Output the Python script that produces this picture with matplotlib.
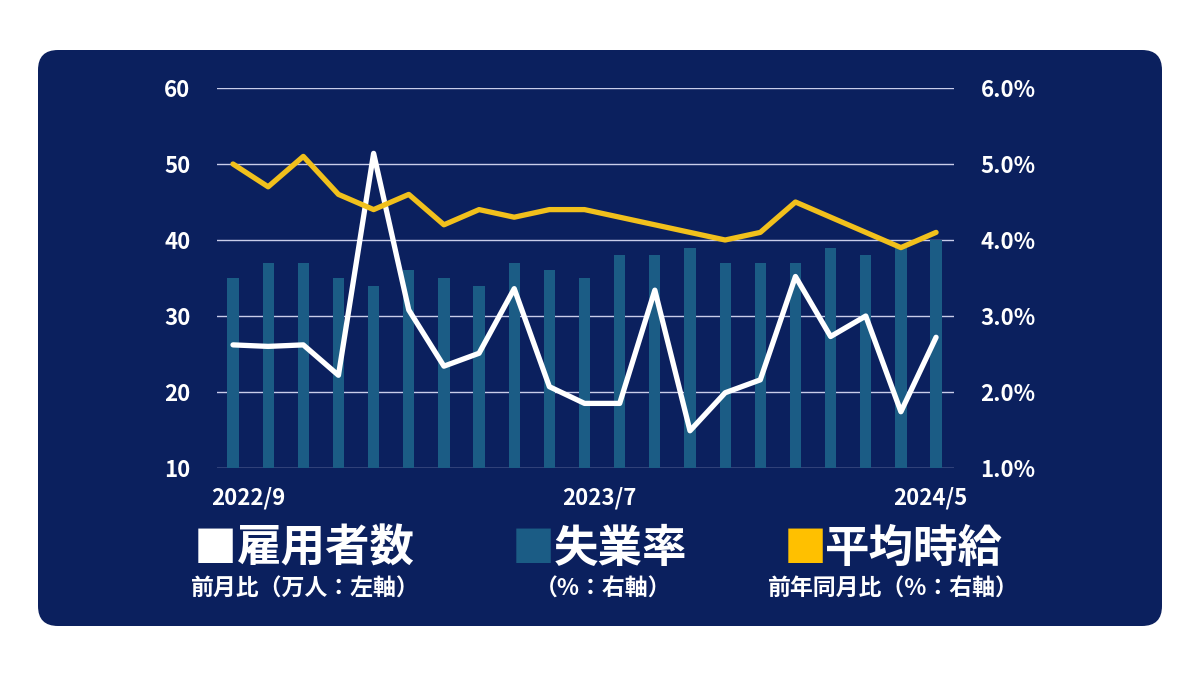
import matplotlib
matplotlib.use("Agg")
import matplotlib.pyplot as plt
from matplotlib.patches import FancyBboxPatch
from matplotlib.transforms import ScaledTranslation

plt.rcParams['font.family'] = ['Noto Sans CJK JP', 'DejaVu Sans']

# ---- data ----
months = ["2022/9", "2022/10", "2022/11", "2022/12", "2023/1", "2023/2", "2023/3",
          "2023/4", "2023/5", "2023/6", "2023/7", "2023/8", "2023/9", "2023/10",
          "2023/11", "2023/12", "2024/1", "2024/2", "2024/3", "2024/4", "2024/5"]
employment = [26.2, 26.0, 26.2, 22.2, 51.4, 30.8, 23.4, 25.1, 33.6, 20.7, 18.5,
              18.5, 33.4, 14.9, 19.9, 21.6, 35.2, 27.3, 30.0, 17.4, 27.2]
unemployment = [3.5, 3.7, 3.7, 3.5, 3.4, 3.6, 3.5, 3.4, 3.7, 3.6, 3.5,
                3.8, 3.8, 3.9, 3.7, 3.7, 3.7, 3.9, 3.8, 3.9, 4.0]
wages = [5.0, 4.7, 5.1, 4.6, 4.4, 4.6, 4.2, 4.4, 4.3, 4.4, 4.4,
         4.3, 4.2, 4.1, 4.0, 4.1, 4.5, 4.3, 4.1, 3.9, 4.1]
left_ticks = [10, 20, 30, 40, 50, 60]
right_ticks = [1.0, 2.0, 3.0, 4.0, 5.0, 6.0]
xtick_labels = ["2022/9", "2023/7", "2024/5"]

NAVY = "#0b205e"
TEAL = "#1b5c85"
GOLD = "#f1c01c"
YELLOW = "#ffc000"
GRID = "#c9cdea"

W, H = 1200, 675
fig = plt.figure(figsize=(12, 6.75), dpi=100)
fig.patch.set_facecolor("white")

# background rounded panel in pixel-like coordinates
bg = fig.add_axes([0, 0, 1, 1], zorder=-10)
bg.set_xlim(0, W)
bg.set_ylim(H, 0)
bg.axis("off")
bg.add_patch(FancyBboxPatch((38, 50), 1162 - 38, 626 - 50,
                            boxstyle="round,pad=0,rounding_size=20",
                            facecolor=NAVY, edgecolor="none"))

pos = [217 / W, 1 - 468 / H, (954 - 217) / W, (468 - 88) / H]
x = list(range(len(months)))
xlim = (-0.455, 20.51)
TICK_FS = 16

# bars (right scale)
axb = fig.add_axes(pos, zorder=1)
axb.set_facecolor("none")
axb.set_xlim(*xlim)
axb.set_ylim(1, 6)
axb.set_yticks(right_ticks)
axb.grid(axis="y", color=GRID, linewidth=1.0)
axb.set_axisbelow(True)
axb.bar(x, [u - 1 for u in unemployment], bottom=1, width=0.32, color=TEAL, zorder=2)
axb.tick_params(left=False, right=False, bottom=False, labelleft=False, labelbottom=False)
for s in axb.spines.values():
    s.set_visible(False)

# employment (left scale)
axe = fig.add_axes(pos, zorder=2)
axe.set_facecolor("none")
axe.set_xlim(*xlim)
axe.set_ylim(10, 60)
axe.plot(x, employment, color="white", linewidth=3.8,
         solid_joinstyle="round", solid_capstyle="round")
axe.set_yticks(left_ticks)
axe.set_yticklabels([str(t) for t in left_ticks])
axe.tick_params(axis="y", length=0, pad=19, labelcolor="white", labelsize=TICK_FS)
for lab in axe.get_yticklabels():
    lab.set_fontweight("bold")
idx = [months.index(m) for m in xtick_labels]
axe.set_xticks(idx)
axe.set_xticklabels(xtick_labels)
axe.tick_params(axis="x", length=0, pad=13, labelcolor="white", labelsize=TICK_FS)
offsets = [15, 15, -6]
for lab, dx in zip(axe.get_xticklabels(), offsets):
    lab.set_fontweight("bold")
    lab.set_transform(lab.get_transform() + ScaledTranslation(dx / 100, 0, fig.dpi_scale_trans))
for s in axe.spines.values():
    s.set_visible(False)

# wages (right scale)
axw = fig.add_axes(pos, zorder=3)
axw.set_facecolor("none")
axw.set_xlim(*xlim)
axw.set_ylim(1, 6)
axw.plot(x, wages, color=GOLD, linewidth=3.8,
         solid_joinstyle="round", solid_capstyle="round")
axw.yaxis.tick_right()
axw.set_yticks(right_ticks)
axw.set_yticklabels([f"{t:.1f}%" for t in right_ticks])
axw.tick_params(axis="y", length=0, pad=19, labelcolor="white", labelsize=TICK_FS)
for lab in axw.get_yticklabels():
    lab.set_fontweight("bold")
axw.tick_params(bottom=False, labelbottom=False)
for s in axw.spines.values():
    s.set_visible(False)

# legend-like titles
ty = 1 - 549 / H
sy = 1 - 589 / H
titles = [("雇用者数", "white", 194, 237, 305, "前月比（万人：左軸）"),
          ("失業率", TEAL, 512, 554, 603, "（%：右軸）"),
          ("平均時給", YELLOW, 784, 825, 893, "前年同月比（%：右軸）")]
for name, col, sqx, tx, cx, sub in titles:
    fig.text(sqx / W, ty, "■", color=col, fontsize=31, fontweight="bold",
             ha="left", va="center")
    fig.text(tx / W, ty, name, color="white", fontsize=32, fontweight="bold",
             ha="left", va="center")
    fig.text(cx / W, sy, sub, color="white", fontsize=16.5, fontweight="bold",
             ha="center", va="center")

fig.savefig("out.png", dpi=100, facecolor="white")
